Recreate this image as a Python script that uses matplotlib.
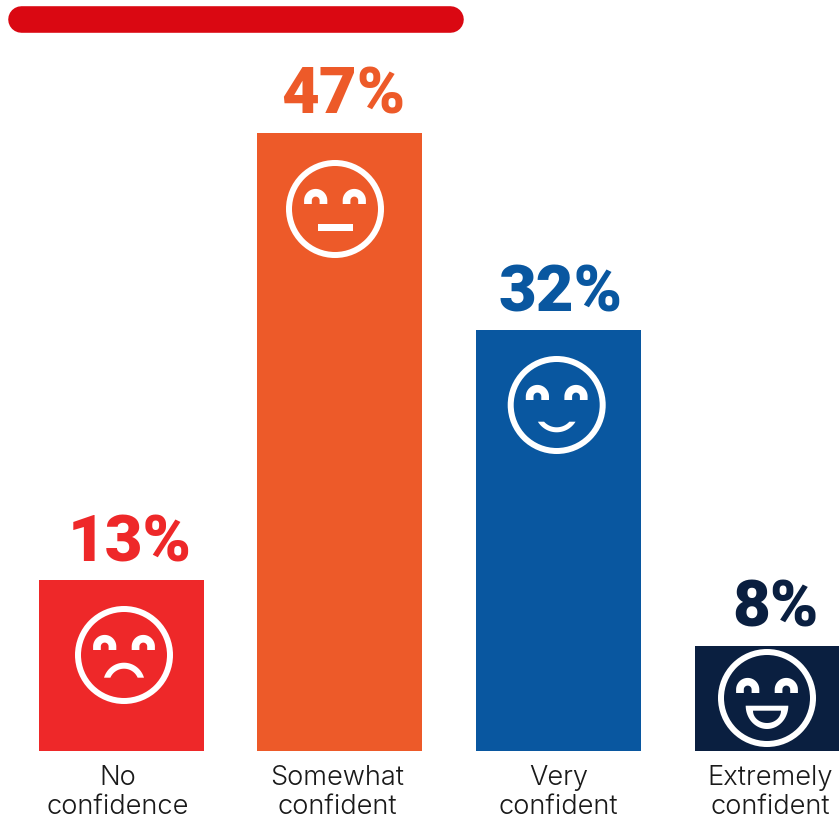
import numpy as np
import matplotlib
matplotlib.use("Agg")
import matplotlib.pyplot as plt
from matplotlib.patches import Circle, Polygon, Rectangle

# Survey results
categories = ["No\nconfidence", "Somewhat\nconfident", "Very\nconfident", "Extremely\nconfident"]
percent = [13, 47, 32, 8]
value_labels = ["13%", "47%", "32%", "8%"]
moods = ["sad", "neutral", "smile", "grin"]
bar_colors = ["#EE2829", "#ED5A29", "#0957A0", "#0A1F40"]

W, H = 839, 816
BASE_Y = 751
PX_PER_POINT = 13.15

fig = plt.figure(figsize=(W / 100, H / 100), dpi=100, facecolor="white")
ax = fig.add_axes([0, (H - BASE_Y) / H, 1, BASE_Y / H])
step = 218.8
ax.set_xlim(-121 / step, (W - 121) / step)
ax.set_ylim(0, BASE_Y / PX_PER_POINT)
ax.axis("off")
slots = np.arange(len(percent))
ax.bar(slots, percent, width=165 / step, color=bar_colors, linewidth=0)

# Pixel-unit overlay for the icons, labels and header strip
ov = fig.add_axes([0, 0, 1, 1], facecolor="none")
ov.set_xlim(0, W)
ov.set_ylim(H, 0)
ov.axis("off")

# Header strip with fully rounded ends
ov.plot([21.3, 450.3], [19.4, 19.4], color="#DA0812", linewidth=26.6 * 0.72, solid_capstyle="round")


def eye(cx, cy):
    t = np.linspace(np.pi, 0, 40)
    outer = np.c_[cx + 11.6 * np.cos(t), cy - 3.5 - 11.6 * np.sin(t)]
    inner = np.c_[cx + 3.9 * np.cos(t[::-1]), cy - 3.5 - 3.9 * np.sin(t[::-1])]
    pts = np.vstack([[[cx - 11.6, cy]], outer, [[cx + 11.6, cy], [cx + 3.9, cy]], inner, [[cx - 3.9, cy]]])
    ov.add_patch(Polygon(pts, closed=True, facecolor="white", linewidth=0))


def band(cx, y0, r_out, r_in, cut, sign):
    # Circular band cut off by a horizontal line; sign=-1 opens down, +1 opens up
    a_out = np.arcsin(cut / r_out)
    a_in = np.arcsin(cut / r_in)
    t_o = np.linspace(a_out, np.pi - a_out, 60)
    t_i = np.linspace(np.pi - a_in, a_in, 60)
    outer = np.c_[cx + r_out * np.cos(t_o), y0 + sign * r_out * np.sin(t_o)]
    inner = np.c_[cx + r_in * np.cos(t_i), y0 + sign * r_in * np.sin(t_i)]
    ov.add_patch(Polygon(np.vstack([outer, inner]), closed=True, facecolor="white", linewidth=0))


def face(cx, cy, mood, color):
    ov.add_patch(Circle((cx, cy), 46, facecolor="none", edgecolor="white", linewidth=6 * 0.72))
    eye(cx - 19.3, cy - 5)
    eye(cx + 19.3, cy - 5)
    if mood == "sad":
        band(cx, cy + 28.5, 20.8, 14.8, 5.8, -1)
    elif mood == "neutral":
        ov.add_patch(Rectangle((cx - 17.5, cy + 14.7), 35, 7.3, facecolor="white", linewidth=0))
    elif mood == "smile":
        band(cx, cy + 5.3, 22, 17, 11.4, 1)
    else:
        for hw, top, depth, col in ((21.3, 7.7, 23.3, "white"), (14, 12.7, 12.3, color)):
            t = np.linspace(0, np.pi, 60)
            pts = np.c_[cx + hw * np.cos(t), cy + top + depth * np.sin(t)]
            ov.add_patch(Polygon(pts, closed=True, facecolor=col, linewidth=0))


face_centers = [(124, 655), (335, 209), (556.7, 405), (767, 698)]
value_dx = [9, 3, 2, -2]
label_x = [118, 337.5, 558.5, 770]
for i, (cat, val, lab, mood, col) in enumerate(zip(categories, percent, value_labels, moods, bar_colors)):
    x_px, y_px = ax.transData.transform((i, val))
    top = H - y_px
    face(*face_centers[i], mood, col)
    ov.text(x_px + value_dx[i], top - 19, lab, color=col, family="Roboto", weight=900, fontsize=47,
            ha="center", va="baseline")
    first, second = cat.split("\n")
    for line, base in ((first, 785), (second, 814)):
        ov.text(label_x[i], base, line, color="#1A1A1A", family="Inter", weight=300, fontsize=19.6,
                ha="center", va="baseline")

fig.savefig("out.png", dpi=100)
